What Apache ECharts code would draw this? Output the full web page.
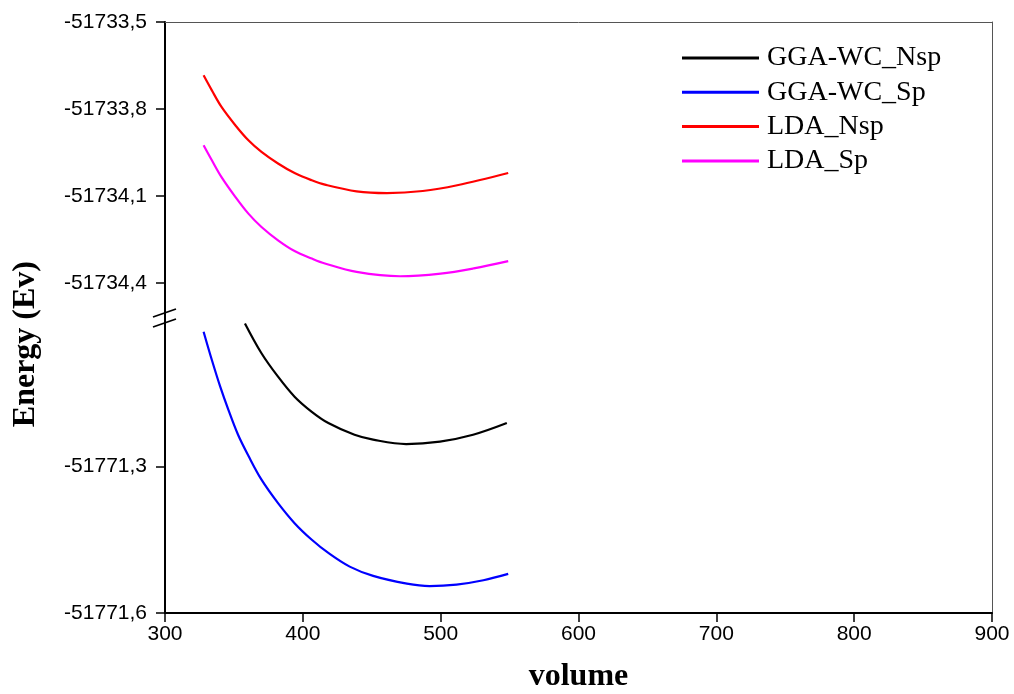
<!DOCTYPE html>
<html>
<head>
<meta charset="utf-8">
<script src="https://cdn.jsdelivr.net/npm/echarts@6/dist/echarts.min.js"></script>
<style>
  html, body { margin: 0; padding: 0; background: #fff; }
  #chart { width: 1014px; height: 694px; }
</style>
</head>
<body>
<div id="chart"></div>
<script>
// Total energy versus cell volume for two functionals, non-spin (Nsp) and spin-polarised (Sp)
const seriesNames = ['GGA-WC_Nsp', 'GGA-WC_Sp', 'LDA_Nsp', 'LDA_Sp'];

const ggaNspVolume = [358, 370, 382, 394, 406.5, 418.5, 437.5, 451, 475, 499.5, 523.5, 548];
const ggaNspEnergy = [-51771.007, -51771.068, -51771.116, -51771.157, -51771.188, -51771.211, -51771.235, -51771.245, -51771.254, -51771.249, -51771.235, -51771.211];

const ggaSpVolume = [328, 334, 340, 346, 353, 360.5, 370, 382, 394, 406.5, 418.5, 434, 451, 475.5, 492, 511.5, 531, 549];
const ggaSpEnergy = [-51771.024, -51771.082, -51771.136, -51771.184, -51771.235, -51771.278, -51771.327, -51771.375, -51771.416, -51771.450, -51771.477, -51771.505, -51771.524, -51771.540, -51771.545, -51771.542, -51771.533, -51771.520];

const ldaNspVolume = [328, 334, 341, 351, 360.5, 370, 382, 394, 406.5, 416, 439, 461, 487, 512, 549];
const ldaNspEnergy = [-51733.684, -51733.736, -51733.793, -51733.856, -51733.908, -51733.948, -51733.988, -51734.021, -51734.046, -51734.061, -51734.084, -51734.090, -51734.083, -51734.063, -51734.021];

const ldaSpVolume = [328, 334, 341, 351, 360.5, 370, 382, 394, 406.5, 416, 439, 470.5, 500, 524, 549];
const ldaSpEnergy = [-51733.925, -51733.977, -51734.035, -51734.103, -51734.161, -51734.207, -51734.253, -51734.290, -51734.316, -51734.333, -51734.362, -51734.377, -51734.368, -51734.350, -51734.325];

// Tick labels for the two halves of the broken energy axis
const upperTicks = [-51733.5, -51733.8, -51734.1, -51734.4];
const lowerTicks = [-51771.3, -51771.6];

const pair = (xs, ys) => xs.map((x, i) => [x, ys[i]]);
const fmt = v => Number(v).toFixed(1).replace('.', ',');

const chart = echarts.init(document.getElementById('chart'), null, { renderer: 'canvas' });

const LEFT = 165, RIGHT = 22, TOP = 22, SPLIT = 320, BOTTOM = 81;
const H = 694;

const tickFont = { fontFamily: 'Liberation Sans, Arial, sans-serif', fontSize: 21, color: '#000' };
const serifBold = { fontFamily: 'Liberation Serif, Times New Roman, serif', fontWeight: 'bold', fontSize: 32, color: '#000' };

const thinBorder = { show: true, lineStyle: { color: '#555', width: 1 } };
const blackAxis = { show: true, onZero: false, lineStyle: { color: '#000', width: 2 } };

const option = {
  animation: false,
  backgroundColor: '#fff',
  grid: [
    { left: LEFT, right: RIGHT, top: TOP, bottom: H - SPLIT },
    { left: LEFT, right: RIGHT, top: SPLIT, bottom: BOTTOM }
  ],
  legend: {
    orient: 'vertical',
    left: 682,
    top: 44,
    padding: 0,
    icon: 'rect',
    itemWidth: 77,
    itemHeight: 3,
    itemGap: 6.3,
    data: seriesNames,
    textStyle: {
      fontFamily: 'Liberation Serif, Times New Roman, serif',
      fontSize: 28,
      lineHeight: 28,
      color: '#000',
      padding: [0, 0, 0, 3]
    }
  },
  xAxis: [
    {
      // upper panel: only its top border is visible
      gridIndex: 0, type: 'value', position: 'top', min: 300, max: 900,
      axisLine: thinBorder, axisTick: { show: false }, axisLabel: { show: false }, splitLine: { show: false }
    },
    {
      gridIndex: 1, type: 'value', position: 'bottom', min: 300, max: 900, interval: 100,
      name: 'volume', nameLocation: 'middle', nameGap: 48, nameTextStyle: serifBold,
      axisLine: blackAxis,
      axisTick: { show: true, inside: false, length: 9, lineStyle: { color: '#000', width: 1.5 } },
      axisLabel: Object.assign({ margin: 11, formatter: v => String(v) }, tickFont),
      splitLine: { show: false }
    }
  ],
  yAxis: [
    {
      gridIndex: 0, type: 'value', min: -51734.528, max: -51733.5,
      axisLine: blackAxis,
      axisTick: { show: true, length: 9, customValues: upperTicks, lineStyle: { color: '#000', width: 1.5 } },
      axisLabel: Object.assign({ margin: 18, customValues: upperTicks, formatter: fmt }, tickFont),
      splitLine: { show: false }
    },
    {
      gridIndex: 1, type: 'value', min: -51771.6, max: -51771.0,
      axisLine: blackAxis,
      axisTick: { show: true, length: 9, customValues: lowerTicks, lineStyle: { color: '#000', width: 1.5 } },
      axisLabel: Object.assign({ margin: 18, customValues: lowerTicks, formatter: fmt }, tickFont),
      splitLine: { show: false }
    },
    {
      gridIndex: 0, type: 'value', position: 'right', min: -51734.528, max: -51733.5,
      axisLine: thinBorder, axisTick: { show: false }, axisLabel: { show: false }, splitLine: { show: false }
    },
    {
      gridIndex: 1, type: 'value', position: 'right', min: -51771.6, max: -51771.0,
      axisLine: thinBorder, axisTick: { show: false }, axisLabel: { show: false }, splitLine: { show: false }
    }
  ],
  series: [
    { name: seriesNames[0], xAxisIndex: 1, yAxisIndex: 1, data: pair(ggaNspVolume, ggaNspEnergy), color: '#000000' },
    { name: seriesNames[1], xAxisIndex: 1, yAxisIndex: 1, data: pair(ggaSpVolume, ggaSpEnergy), color: '#0000FF' },
    { name: seriesNames[2], xAxisIndex: 0, yAxisIndex: 0, data: pair(ldaNspVolume, ldaNspEnergy), color: '#FF0000' },
    { name: seriesNames[3], xAxisIndex: 0, yAxisIndex: 0, data: pair(ldaSpVolume, ldaSpEnergy), color: '#FF00FF' }
  ].map(s => Object.assign({
    type: 'line',
    smooth: 0.35,
    showSymbol: false,
    symbol: 'none',
    lineStyle: { width: 2.2, color: s.color },
    itemStyle: { color: s.color }
  }, s)),
  graphic: [
    {
      type: 'text', left: 10, top: 261,
      rotation: Math.PI / 2,
      style: { text: 'Energy (Ev)', font: 'bold 32px "Liberation Serif", "Times New Roman", serif', fill: '#000' }
    },
    // double slash marking the axis break
    { type: 'line', shape: { x1: LEFT - 12, y1: SPLIT - 3, x2: LEFT + 11, y2: SPLIT - 11 }, style: { stroke: '#000', lineWidth: 1.8 } },
    { type: 'line', shape: { x1: LEFT - 12, y1: SPLIT + 7, x2: LEFT + 11, y2: SPLIT - 1 }, style: { stroke: '#000', lineWidth: 1.8 } }
  ]
};

chart.setOption(option);
</script>
</body>
</html>
